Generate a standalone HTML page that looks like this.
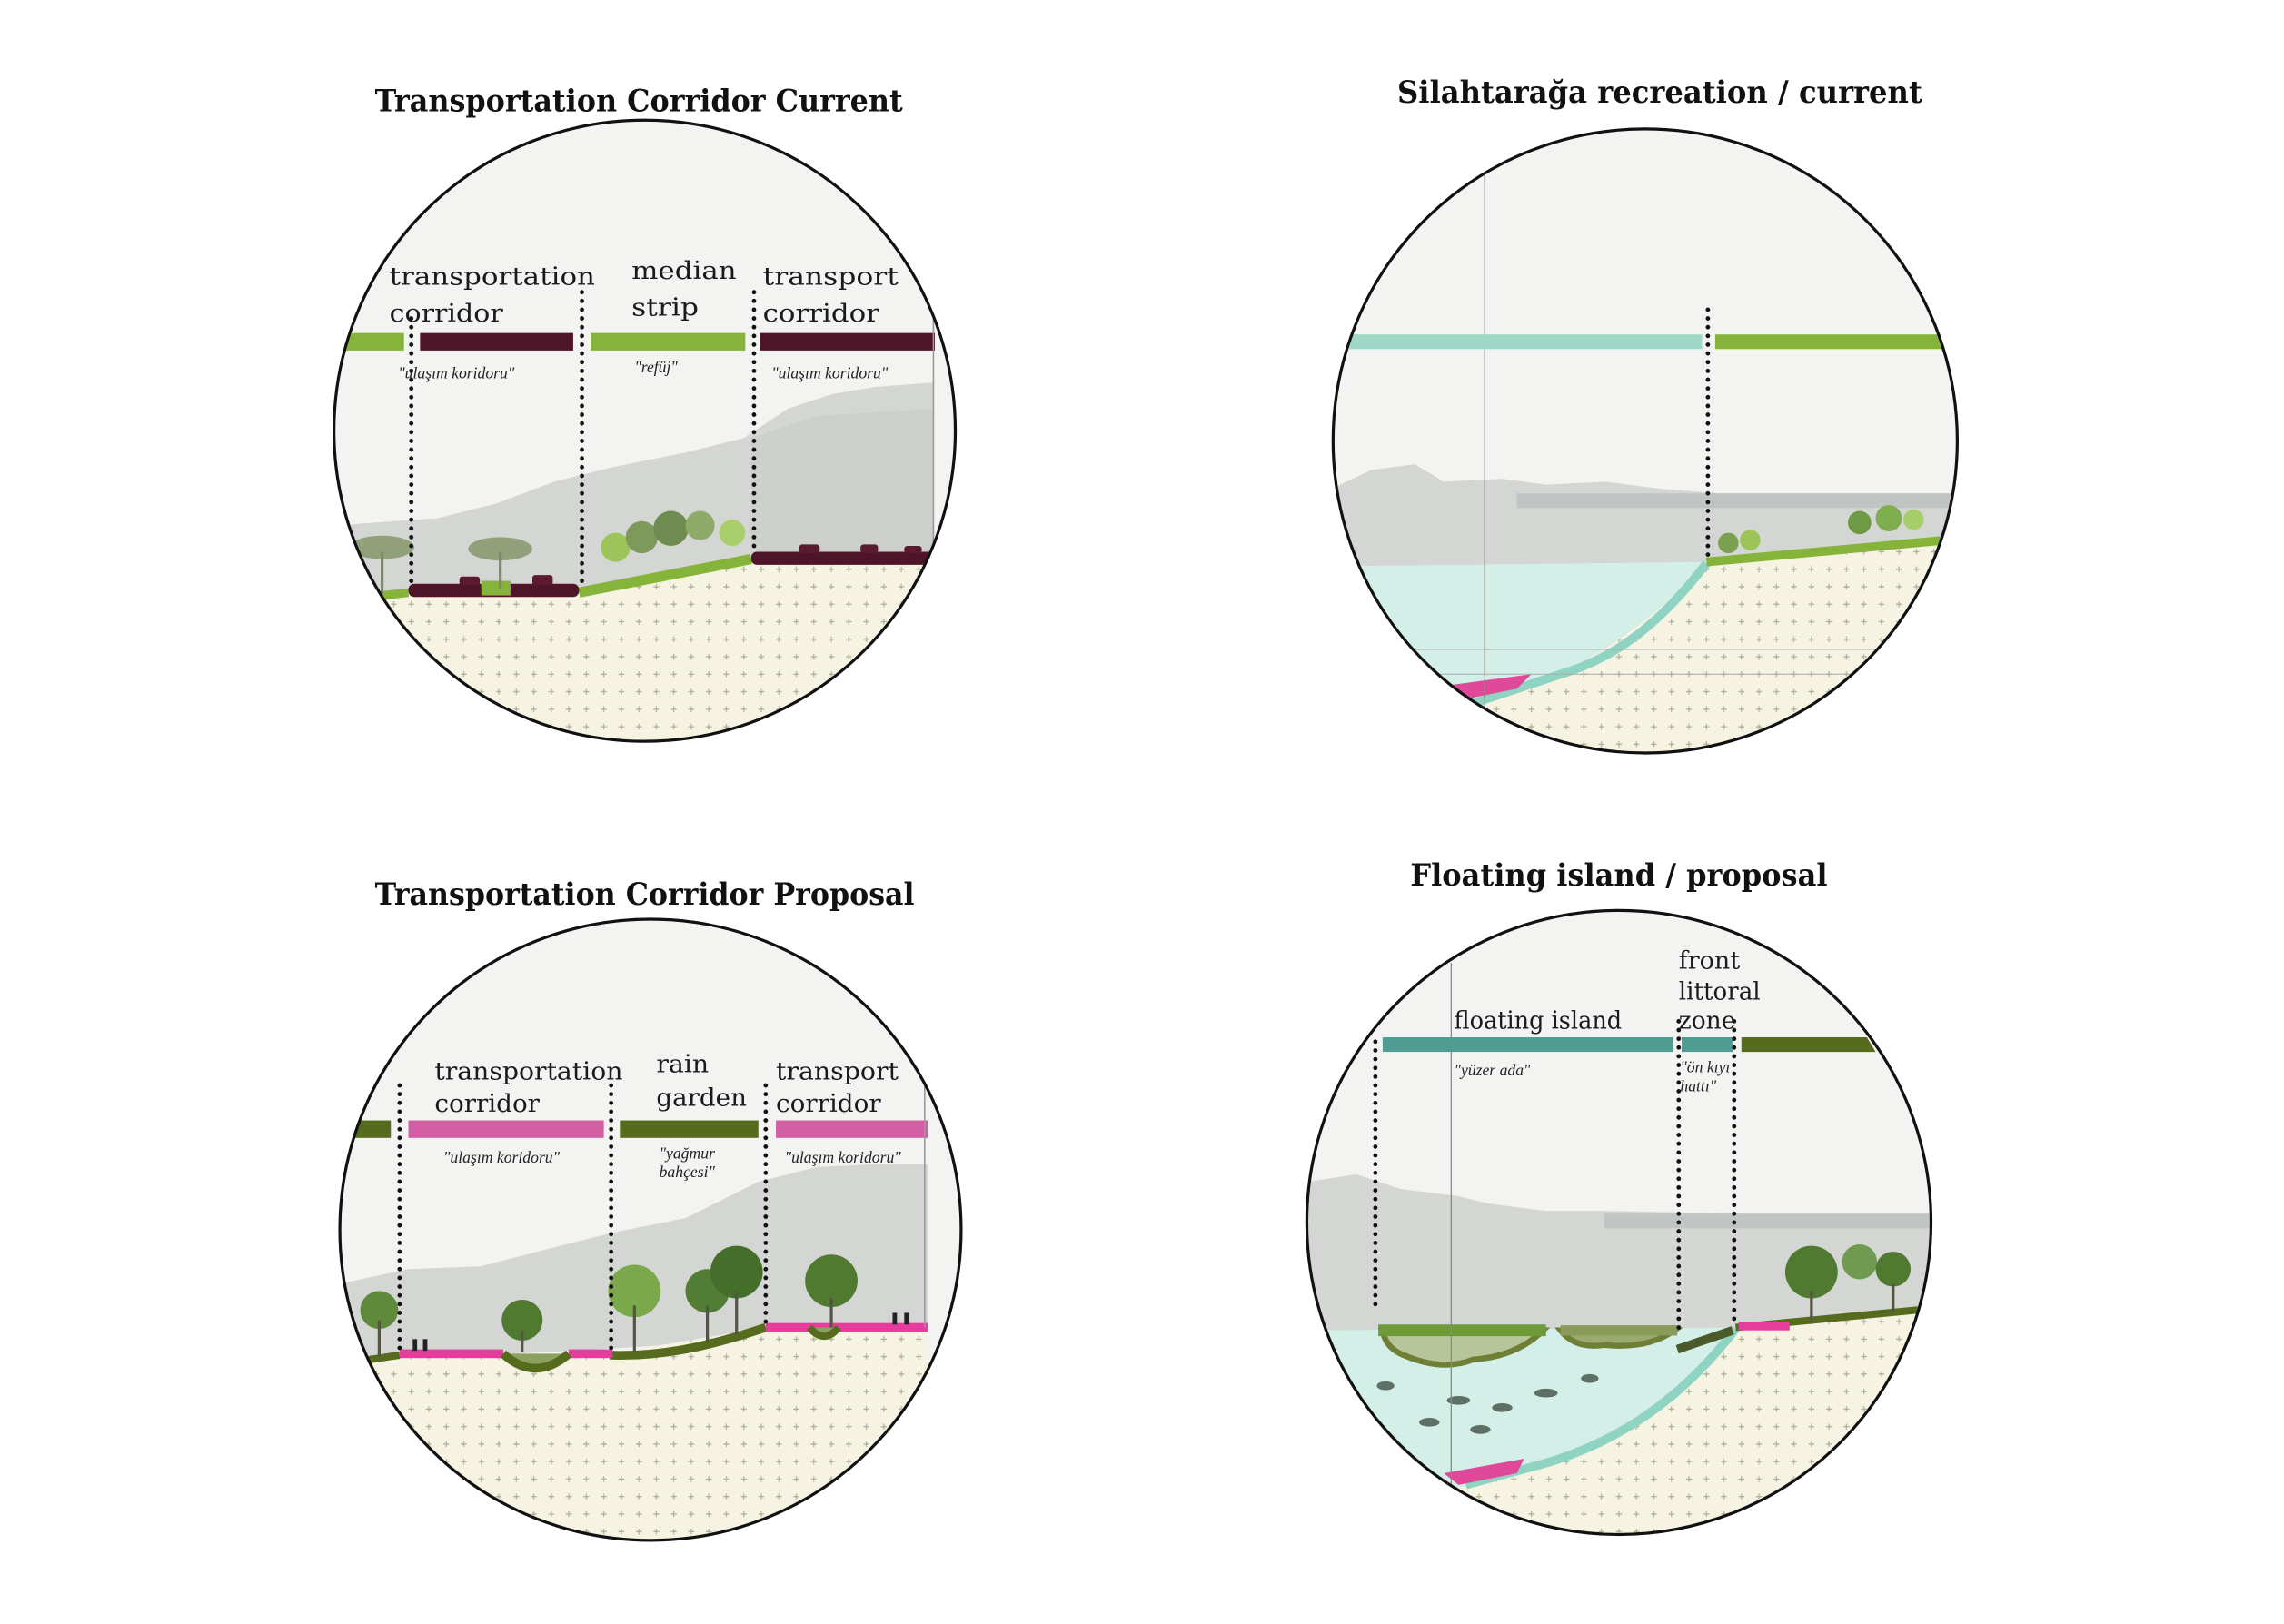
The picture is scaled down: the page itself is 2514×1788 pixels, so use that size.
<!DOCTYPE html>
<html><head><meta charset="utf-8"><style>
html,body{margin:0;padding:0;background:#fff}
svg{display:block}
.t{font-family:"DejaVu Serif","Liberation Serif",serif;font-weight:bold;font-size:21px;fill:#111}
.l{font-family:"DejaVu Serif","Liberation Serif",serif;font-size:17px;fill:#1a1a1a}
.i{font-family:"Liberation Serif",serif;font-style:italic;font-size:11px;fill:#222}
.dot{stroke:#111;stroke-width:3;stroke-dasharray:0 6;stroke-linecap:round;fill:none}
.sky{fill:#c9ccca;opacity:0.75}
</style></head><body>
<svg width="2514" height="1788" viewBox="0 0 1566 1113" xmlns="http://www.w3.org/2000/svg">
<defs>
<pattern id="pl" width="12" height="12" patternUnits="userSpaceOnUse">
<rect width="12" height="12" fill="#f6f3e3"/>
<path d="M6 4v4M4 6h4" stroke="#a8ad92" stroke-width="0.7"/>
</pattern>
<clipPath id="c1"><circle cx="442" cy="295" r="213"/></clipPath>
<clipPath id="c2"><circle cx="1128" cy="302" r="214"/></clipPath>
<clipPath id="c3"><circle cx="446" cy="843" r="213"/></clipPath>
<clipPath id="c4"><circle cx="1110" cy="838" r="214"/></clipPath>
</defs>
<rect width="1566" height="1113" fill="#fff"/>

<!-- Titles -->
<text class="t" x="257" y="76" textLength="362" lengthAdjust="spacingAndGlyphs">Transportation Corridor Current</text>
<text class="t" x="958" y="70" textLength="360" lengthAdjust="spacingAndGlyphs">Silahtarağa recreation / current</text>
<text class="t" x="257" y="620" textLength="370" lengthAdjust="spacingAndGlyphs">Transportation Corridor Proposal</text>
<text class="t" x="967" y="607" textLength="286" lengthAdjust="spacingAndGlyphs">Floating island / proposal</text>

<!-- Circle 1 -->
<g clip-path="url(#c1)">
<rect x="220" y="80" width="450" height="440" fill="#f3f4f2"/>
<path class="sky" d="M229 360 L300 355 L340 345 L380 330 L420 320 L470 310 L510 300 L540 280 L570 270 L600 265 L640 262 L640 400 L229 410Z"/>
<path class="sky" d="M515 300 L560 285 L640 280 L640 385 L515 385Z"/>
<path d="M229 410 L280 405 L397 405 L515 382 L640 382 L640 520 L229 520Z" fill="url(#pl)"/>
<path d="M229 412 L280 406" stroke="#86b33a" stroke-width="6"/>
<path d="M397 406 L515 383" stroke="#86b33a" stroke-width="7"/>
<rect x="280" y="400" width="117" height="9" rx="4" fill="#4e1529"/>
<rect x="515" y="378" width="125" height="9" rx="4" fill="#4e1529"/>
<rect x="330" y="398" width="20" height="10" fill="#86b33a"/>
<g fill="#5c1a30"><rect x="315" y="395" width="14" height="6" rx="2"/><rect x="365" y="394" width="14" height="7" rx="2"/><rect x="548" y="373" width="14" height="6" rx="2"/><rect x="590" y="373" width="12" height="6" rx="2"/><rect x="620" y="374" width="12" height="5" rx="2"/></g>
<g fill="#8a9a70" opacity="0.9"><ellipse cx="262" cy="375" rx="22" ry="8"/><ellipse cx="343" cy="376" rx="22" ry="8"/></g>
<g stroke="#7d8a6a" stroke-width="2"><path d="M262 378v30M343 378v25"/></g>
<g><circle cx="422" cy="375" r="10" fill="#9cc45a"/><circle cx="440" cy="368" r="11" fill="#7e9a5a"/><circle cx="460" cy="362" r="12" fill="#6f8c50"/><circle cx="480" cy="360" r="10" fill="#8eab6a"/><circle cx="502" cy="365" r="9" fill="#a9cf6a"/></g>
<rect x="229" y="228" width="48" height="12" fill="#86b33a"/>
<rect x="288" y="228" width="105" height="12" fill="#4e1529"/>
<rect x="405" y="228" width="106" height="12" fill="#86b33a"/>
<rect x="521" y="228" width="120" height="12" fill="#4e1529"/>
<line x1="640" y1="190" x2="640" y2="390" stroke="#999" stroke-width="1"/>
</g>
<path class="dot" d="M282 218V402M399 200V402M517 200V380"/>
<text class="l" x="267" y="195" textLength="141" lengthAdjust="spacingAndGlyphs">transportation</text><text class="l" x="267" y="220" textLength="78" lengthAdjust="spacingAndGlyphs">corridor</text>
<text class="l" x="433" y="191" textLength="72" lengthAdjust="spacingAndGlyphs">median</text><text class="l" x="433" y="216" textLength="46" lengthAdjust="spacingAndGlyphs">strip</text>
<text class="l" x="523" y="195" textLength="93" lengthAdjust="spacingAndGlyphs">transport</text><text class="l" x="523" y="220" textLength="80" lengthAdjust="spacingAndGlyphs">corridor</text>
<text class="i" x="273" y="259">"ulaşım koridoru"</text>
<text class="i" x="435" y="255">"refüj"</text>
<text class="i" x="529" y="259">"ulaşım koridoru"</text>
<circle cx="442" cy="295" r="213" fill="none" stroke="#111" stroke-width="2"/>

<!-- Circle 2 -->
<g clip-path="url(#c2)">
<rect x="910" y="85" width="440" height="440" fill="#f3f4f2"/>
<path class="sky" d="M913 335 L940 322 L970 318 L990 330 L1030 328 L1060 332 L1100 330 L1140 335 L1180 338 L1342 338 L1342 388 L913 390Z"/>
<rect x="1040" y="338" width="302" height="10" fill="#b8bcba" opacity="0.7"/>
<path d="M913 388 L1170 385 C1140 420 1120 440 1080 460 L1030 478 L1000 485 L913 490Z" fill="#d3efe8"/>
<path d="M1170 385 L1335 370 L1342 370 L1342 525 L913 525 L913 490 L1000 485 L1030 478 C1080 462 1130 430 1170 385Z" fill="url(#pl)"/>
<path d="M1170 386 C1140 425 1110 450 1070 462 L1010 482" stroke="#8fd4c2" stroke-width="6" fill="none"/>
<path d="M990 470 L1050 462 L1040 472 L1000 480Z" fill="#e0499a"/>
<path d="M1170 385 L1335 370" stroke="#86b33a" stroke-width="6"/>
<g><circle cx="1185" cy="372" r="7" fill="#7aa050"/><circle cx="1200" cy="370" r="7" fill="#9cc45a"/><circle cx="1275" cy="358" r="8" fill="#6f9a45"/><circle cx="1295" cy="355" r="9" fill="#7fae4e"/><circle cx="1312" cy="356" r="7" fill="#a6cf6a"/></g>
<line x1="913" y1="445" x2="1342" y2="445" stroke="#aaa" stroke-width="0.6"/>
<line x1="913" y1="462" x2="1342" y2="462" stroke="#aaa" stroke-width="0.6"/>
<line x1="1018" y1="120" x2="1018" y2="520" stroke="#888" stroke-width="0.8"/>
<rect x="925" y="229" width="242" height="10" fill="#9fd8c6"/>
<rect x="1176" y="229" width="160" height="10" fill="#86b33a"/>
</g>
<path class="dot" d="M1171 212V383"/>
<circle cx="1128" cy="302" r="214" fill="none" stroke="#111" stroke-width="2"/>

<!-- Circle 3 -->
<g clip-path="url(#c3)">
<rect x="230" y="628" width="430" height="432" fill="#f3f4f2"/>
<path class="sky" d="M233 880 L280 870 L330 868 L380 855 L420 845 L470 835 L520 810 L560 800 L600 798 L636 798 L636 912 L233 935Z"/>
<path d="M233 935 L274 928 L418 928 L525 910 L636 910 L636 1060 L233 1060Z" fill="url(#pl)"/>
<path d="M233 935 L274 929" stroke="#566b1d" stroke-width="5"/>
<path d="M418 929 C450 930 480 925 525 910" stroke="#566b1d" stroke-width="6" fill="none"/>
<rect x="274" y="925" width="71" height="6" fill="#e53d9b"/>
<rect x="390" y="925" width="30" height="6" fill="#e53d9b"/>
<path d="M345 928 Q367 948 390 928" stroke="#566b1d" stroke-width="6" fill="#8ea060"/>
<rect x="525" y="907" width="111" height="6" fill="#e53d9b"/>
<path d="M555 910 Q565 922 575 910" stroke="#566b1d" stroke-width="5" fill="#8ea060"/>
<g><circle cx="260" cy="898" r="13" fill="#5f8a3c"/><circle cx="358" cy="905" r="14" fill="#4f7a30"/><circle cx="435" cy="885" r="18" fill="#7aa84a"/><circle cx="485" cy="885" r="15" fill="#527d35"/><circle cx="505" cy="872" r="18" fill="#466e2b"/><circle cx="570" cy="878" r="18" fill="#4f7a30"/></g>
<g stroke="#554" stroke-width="2"><path d="M260 905v25M358 912v15M435 895v32M485 895v25M505 885v30M570 890v20"/></g>
<g fill="#222"><rect x="283" y="918" width="3" height="8"/><rect x="290" y="918" width="3" height="8"/><rect x="612" y="900" width="3" height="8"/><rect x="620" y="900" width="3" height="8"/></g>
<rect x="233" y="768" width="35" height="12" fill="#566b1d"/>
<rect x="280" y="768" width="134" height="12" fill="#d25fa3"/>
<rect x="425" y="768" width="95" height="12" fill="#566b1d"/>
<rect x="532" y="768" width="104" height="12" fill="#d25fa3"/>
<line x1="634" y1="740" x2="634" y2="910" stroke="#999" stroke-width="1"/>
</g>
<path class="dot" d="M274 744V928M419 744V928M525 744V908"/>
<text class="l" x="298" y="740" textLength="129" lengthAdjust="spacingAndGlyphs">transportation</text><text class="l" x="298" y="762" textLength="72" lengthAdjust="spacingAndGlyphs">corridor</text>
<text class="l" x="450" y="735" textLength="36" lengthAdjust="spacingAndGlyphs">rain</text><text class="l" x="450" y="758" textLength="62" lengthAdjust="spacingAndGlyphs">garden</text>
<text class="l" x="532" y="740" textLength="84" lengthAdjust="spacingAndGlyphs">transport</text><text class="l" x="532" y="762" textLength="72" lengthAdjust="spacingAndGlyphs">corridor</text>
<text class="i" x="304" y="797">"ulaşım koridoru"</text>
<text class="i" x="452" y="794">"yağmur</text><text class="i" x="452" y="807">bahçesi"</text>
<text class="i" x="538" y="797">"ulaşım koridoru"</text>
<circle cx="446" cy="843" r="213" fill="none" stroke="#111" stroke-width="2"/>

<!-- Circle 4 -->
<g clip-path="url(#c4)">
<rect x="890" y="620" width="440" height="440" fill="#f3f4f2"/>
<path class="sky" d="M897 810 L930 805 L960 815 L1000 820 L1020 825 L1060 830 L1100 830 L1200 832 L1325 832 L1325 905 L1190 912 L897 912Z"/>
<rect x="1100" y="832" width="225" height="10" fill="#b8bcba" opacity="0.7"/>
<path d="M897 912 L1190 910 C1160 950 1120 985 1060 1005 L1000 1020 L897 1020Z" fill="#d3efe8"/>
<path d="M1190 910 L1315 898 L1325 898 L1325 1060 L897 1060 L897 1020 L1000 1020 L1060 1005 C1120 985 1160 950 1190 910Z" fill="url(#pl)"/>
<path d="M1190 911 C1160 950 1120 985 1060 1003 L1005 1018" stroke="#8fd4c2" stroke-width="6" fill="none"/>
<path d="M990 1010 L1045 1000 L1040 1010 L1000 1018Z" fill="#e0499a"/>
<path d="M1190 910 L1315 898" stroke="#566b1d" stroke-width="5"/>
<rect x="1192" y="906" width="35" height="6" fill="#e53d9b"/>
<path d="M948 912 Q950 925 965 930 Q990 940 1010 932 Q1040 930 1058 912Z" fill="#b8c49a" stroke="#6f7f35" stroke-width="4"/>
<path d="M1070 912 Q1080 925 1100 922 Q1130 925 1148 912Z" fill="#9aaa70" stroke="#6f7f35" stroke-width="4"/>
<path d="M945 912 L1060 912" stroke="#6e9a3a" stroke-width="8"/>
<path d="M1070 912 L1150 912" stroke="#8a9a58" stroke-width="7"/>
<path d="M1150 925 L1188 912" stroke="#4a5a2a" stroke-width="6"/>
<g fill="#2d3a30" opacity="0.7"><ellipse cx="1000" cy="960" rx="8" ry="3"/><ellipse cx="1030" cy="965" rx="7" ry="3"/><ellipse cx="1060" cy="955" rx="8" ry="3"/><ellipse cx="980" cy="975" rx="7" ry="3"/><ellipse cx="950" cy="950" rx="6" ry="3"/><ellipse cx="1015" cy="980" rx="7" ry="3"/><ellipse cx="1090" cy="945" rx="6" ry="3"/></g>
<g><circle cx="1242" cy="872" r="18" fill="#4f7a30"/><circle cx="1275" cy="865" r="12" fill="#6f9a50"/><circle cx="1298" cy="870" r="12" fill="#4f7a30"/></g>
<g stroke="#554" stroke-width="2"><path d="M1242 885v20M1298 880v20"/></g>
<line x1="995" y1="660" x2="995" y2="1050" stroke="#888" stroke-width="0.8"/>
<rect x="948" y="711" width="199" height="10" fill="#4f9c92"/>
<rect x="1153" y="711" width="35" height="10" fill="#4f9c92"/>
<path d="M1194 711 L1280 711 L1286 721 L1194 721Z" fill="#566b1d"/>
</g>
<path class="dot" d="M943 714V895M1151 700V915M1189 700V910"/>
<text class="l" x="997" y="705" textLength="115" lengthAdjust="spacingAndGlyphs">floating island</text>
<text class="l" x="1151" y="664" textLength="42" lengthAdjust="spacingAndGlyphs">front</text><text class="l" x="1151" y="685" textLength="56" lengthAdjust="spacingAndGlyphs">littoral</text><text class="l" x="1151" y="705" textLength="39" lengthAdjust="spacingAndGlyphs">zone</text>
<text class="i" x="997" y="737">"yüzer ada"</text>
<text class="i" x="1152" y="735">"ön kıyı</text><text class="i" x="1152" y="748">hattı"</text>
<circle cx="1110" cy="838" r="214" fill="none" stroke="#111" stroke-width="2"/>
</svg>
</body></html>
